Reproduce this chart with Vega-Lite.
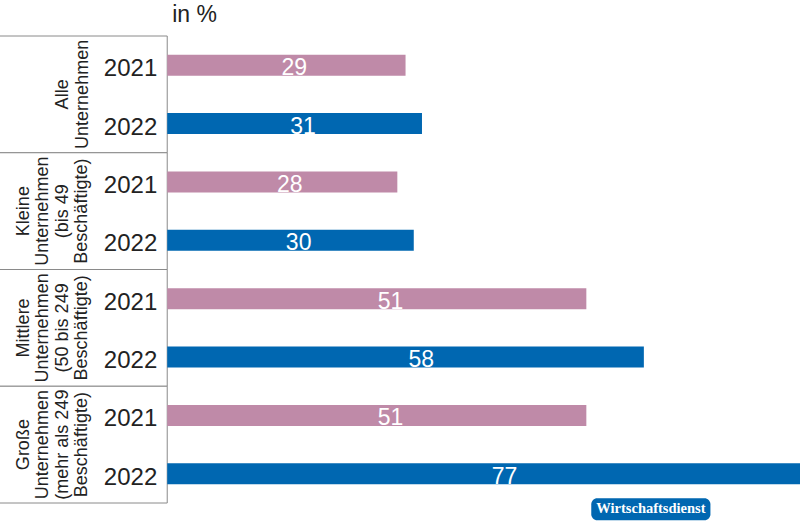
{
  "$schema": "https://vega.github.io/schema/vega-lite/v6.json",
  "width": 800,
  "height": 467,
  "autosize": {"type": "none"},
  "padding": {"top": 36, "bottom": 18, "left": 0, "right": 0},
  "background": "white",
  "view": {"stroke": null},
  "config": {"font": "Liberation Sans"},
  "datasets": {
    "bars": [
      {"group": "Alle", "year": "2021", "value": 29},
      {"group": "Alle", "year": "2022", "value": 31},
      {"group": "Kleine", "year": "2021", "value": 28},
      {"group": "Kleine", "year": "2022", "value": 30},
      {"group": "Mittlere", "year": "2021", "value": 51},
      {"group": "Mittlere", "year": "2022", "value": 58},
      {"group": "Große", "year": "2021", "value": 51},
      {"group": "Große", "year": "2022", "value": 77}
    ],
    "groups": [
      {"group": "Alle", "label": "Alle\nUnternehmen"},
      {"group": "Kleine", "label": "Kleine\nUnternehmen\n(bis 49\nBeschäftigte)"},
      {"group": "Mittlere", "label": "Mittlere\nUnternehmen\n(50 bis 249\nBeschäftigte)"},
      {"group": "Große", "label": "Große\nUnternehmen\n(mehr als 249\nBeschäftigte)"}
    ],
    "badge": [
      {"group": "Große", "text": "Wirtschaftsdienst"}
    ],
    "unit": [
      {"group": "Alle", "text": "in %"}
    ]
  },
  "encoding": {
    "y": {
      "field": "group",
      "type": "nominal",
      "sort": ["Alle", "Kleine", "Mittlere", "Große"],
      "scale": {"domain": ["Alle", "Kleine", "Mittlere", "Große"], "paddingInner": 0, "paddingOuter": 0},
      "axis": null
    }
  },
  "layer": [
    {
      "data": {"name": "groups"},
      "mark": {"type": "rect", "fill": "white", "stroke": "#8a8a8a", "strokeWidth": 1},
      "encoding": {
        "x": {"datum": -20.5, "type": "quantitative", "scale": {"domain": [-20.35, 77], "nice": false, "zero": false}, "axis": null},
        "x2": {"datum": 0}
      }
    },
    {
      "data": {"name": "groups"},
      "transform": [{"filter": "datum.group === 'Alle'"}],
      "mark": {"type": "text", "angle": 270, "align": "center", "baseline": "alphabetic", "fontSize": 18, "lineHeight": 19.5, "lineBreak": "\n", "color": "#222222"},
      "encoding": {
        "x": {"datum": -12.07, "type": "quantitative"},
        "text": {"field": "label"}
      }
    },
    {
      "data": {"name": "groups"},
      "transform": [{"filter": "datum.group !== 'Alle'"}],
      "mark": {"type": "text", "angle": 270, "align": "center", "baseline": "alphabetic", "fontSize": 18, "lineHeight": 19.5, "lineBreak": "\n", "color": "#222222"},
      "encoding": {
        "x": {"datum": -16.83, "type": "quantitative"},
        "text": {"field": "label"}
      }
    },
    {
      "data": {"name": "bars"},
      "mark": {"type": "bar"},
      "encoding": {
        "x": {"field": "value", "type": "quantitative"},
        "yOffset": {"field": "year", "type": "nominal", "scale": {"paddingInner": 0.64, "paddingOuter": 0.32}},
        "color": {"field": "year", "type": "nominal", "scale": {"domain": ["2021", "2022"], "range": ["#bf8aa8", "#0067b1"]}, "legend": null}
      }
    },
    {
      "data": {"name": "bars"},
      "mark": {"type": "text", "align": "right", "baseline": "alphabetic", "dx": -10, "dy": 11, "fontSize": 24, "color": "#222222"},
      "encoding": {
        "x": {"datum": 0, "type": "quantitative"},
        "yOffset": {"field": "year", "type": "nominal"},
        "text": {"field": "year"}
      }
    },
    {
      "data": {"name": "bars"},
      "transform": [{"calculate": "datum.value * 0.533", "as": "labelpos"}],
      "mark": {"type": "text", "align": "center", "baseline": "alphabetic", "dy": 10, "fontSize": 23, "color": "white"},
      "encoding": {
        "x": {"field": "labelpos", "type": "quantitative"},
        "yOffset": {"field": "year", "type": "nominal"},
        "text": {"field": "value"}
      }
    },
    {
      "data": {"name": "unit"},
      "mark": {"type": "text", "align": "left", "baseline": "alphabetic", "dx": 5, "fontSize": 23, "color": "#222222"},
      "encoding": {
        "x": {"datum": 0, "type": "quantitative"},
        "y": {"field": "group", "type": "nominal", "bandPosition": -0.12},
        "text": {"field": "text"}
      }
    },
    {
      "data": {"name": "badge"},
      "mark": {"type": "rect", "fill": "#0067b1", "cornerRadius": 6},
      "encoding": {
        "x": {"datum": 51.6, "type": "quantitative"},
        "x2": {"datum": 66.1},
        "y": {"field": "group", "type": "nominal", "bandPosition": 0.959},
        "y2": {"field": "group", "bandPosition": 1.148}
      }
    },
    {
      "data": {"name": "badge"},
      "mark": {"type": "text", "align": "center", "baseline": "middle", "font": "Liberation Serif", "fontSize": 14.5, "fontWeight": 600, "color": "white"},
      "encoding": {
        "x": {"datum": 58.86, "type": "quantitative"},
        "y": {"field": "group", "type": "nominal", "bandPosition": 1.054},
        "text": {"field": "text"}
      }
    }
  ]
}
